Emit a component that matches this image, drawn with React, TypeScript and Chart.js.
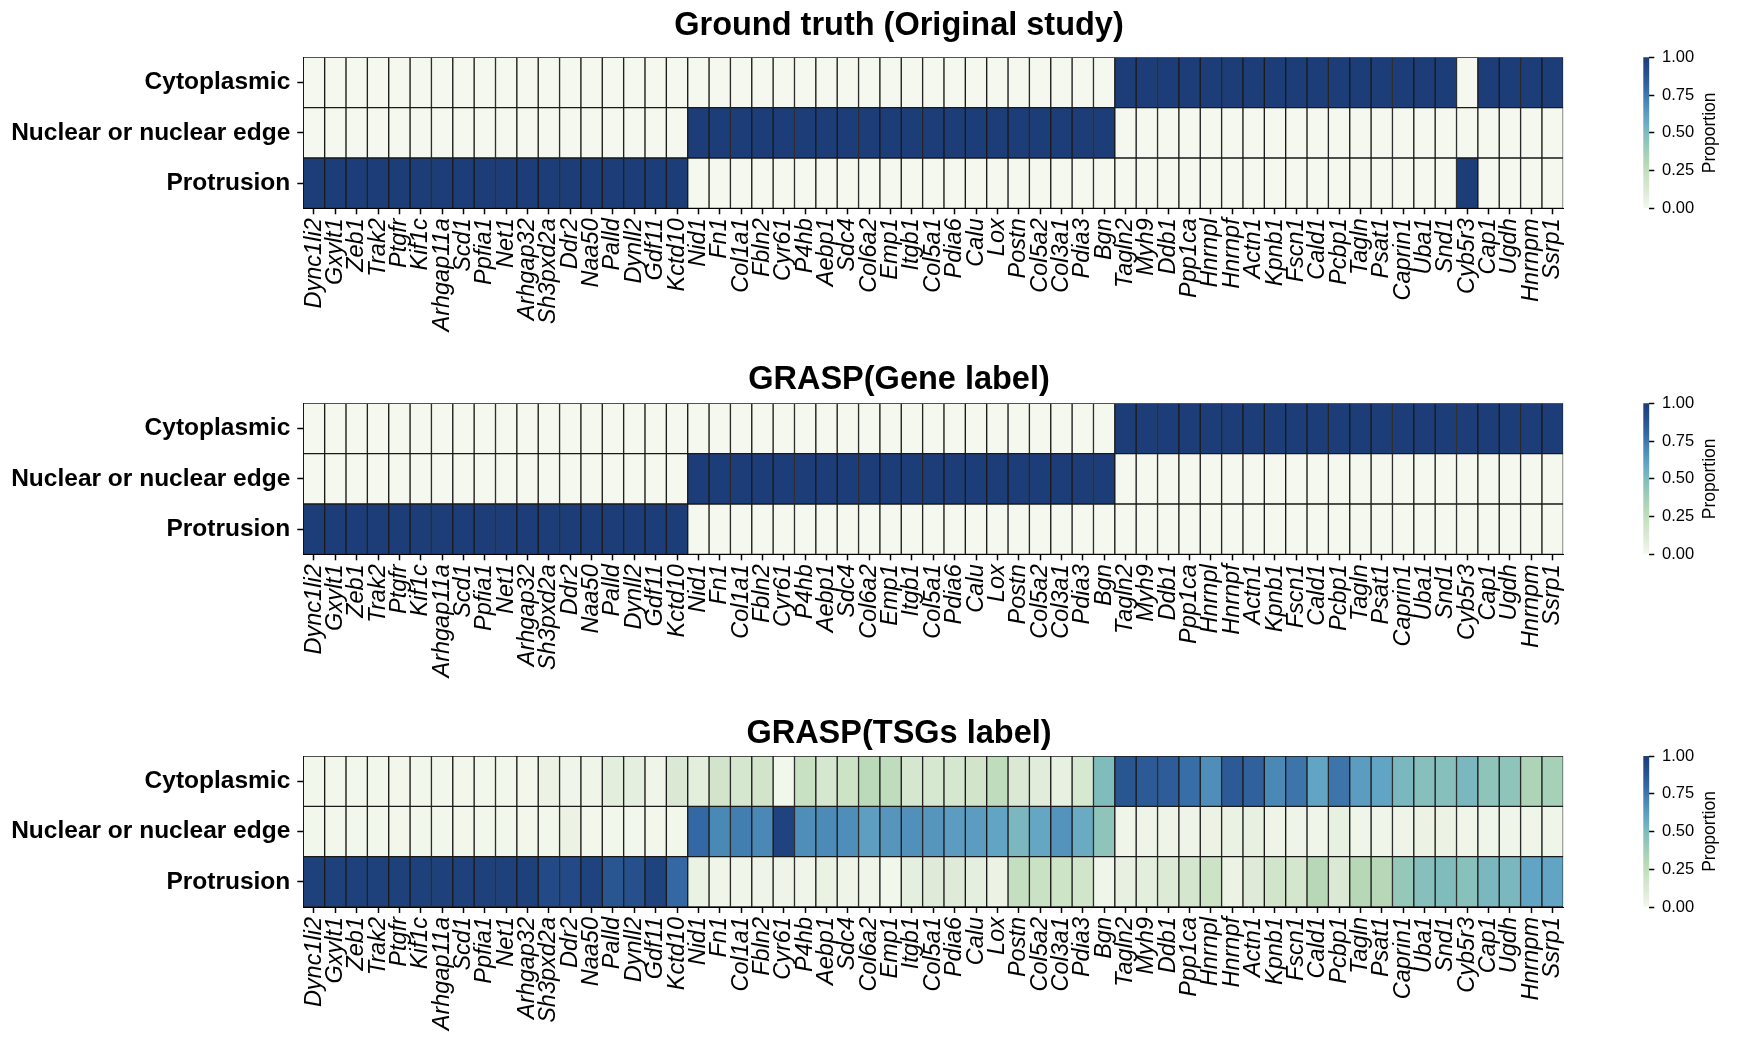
import React, { useEffect, useRef } from 'react';
import { Chart, registerables } from 'chart.js';

Chart.register(...registerables);

// ---------------- data ----------------
const genes = [
  'Dync1li2', 'Gxylt1', 'Zeb1', 'Trak2', 'Ptgfr', 'Kif1c', 'Arhgap11a', 'Scd1', 'Ppfia1', 'Net1',
  'Arhgap32', 'Sh3pxd2a', 'Ddr2', 'Naa50', 'Palld', 'Dynll2', 'Gdf11', 'Kctd10',
  'Nid1', 'Fn1', 'Col1a1', 'Fbln2', 'Cyr61', 'P4hb', 'Aebp1', 'Sdc4', 'Col6a2', 'Emp1',
  'Itgb1', 'Col5a1', 'Pdia6', 'Calu', 'Lox', 'Postn', 'Col5a2', 'Col3a1', 'Pdia3', 'Bgn',
  'Tagln2', 'Myh9', 'Ddb1', 'Ppp1ca', 'Hnrnpl', 'Hnrnpf', 'Actn1', 'Kpnb1', 'Fscn1', 'Cald1',
  'Pcbp1', 'Tagln', 'Psat1', 'Caprin1', 'Uba1', 'Snd1', 'Cyb5r3', 'Cap1', 'Ugdh', 'Hnrnpm', 'Ssrp1',
];

// rows from bottom to top of each heatmap
const rowLabels = ['Protrusion', 'Nuclear or nuclear edge', 'Cytoplasmic'];
const rowCenters = [0.5, 1.5, 2.5];

const panelTitles = ['Ground truth (Original study)', 'GRASP(Gene label)', 'GRASP(TSGs label)'];

// Ground truth (Original study)
const gtCytoplasmic = [
  0, 0, 0, 0, 0, 0, 0, 0, 0, 0, 0, 0, 0, 0, 0, 0, 0, 0,
  0, 0, 0, 0, 0, 0, 0, 0, 0, 0, 0, 0, 0, 0, 0, 0, 0, 0, 0, 0,
  1, 1, 1, 1, 1, 1, 1, 1, 1, 1, 1, 1, 1, 1, 1, 1, 0, 1, 1, 1, 1,
];
const gtNuclear = [
  0, 0, 0, 0, 0, 0, 0, 0, 0, 0, 0, 0, 0, 0, 0, 0, 0, 0,
  1, 1, 1, 1, 1, 1, 1, 1, 1, 1, 1, 1, 1, 1, 1, 1, 1, 1, 1, 1,
  0, 0, 0, 0, 0, 0, 0, 0, 0, 0, 0, 0, 0, 0, 0, 0, 0, 0, 0, 0, 0,
];
const gtProtrusion = [
  1, 1, 1, 1, 1, 1, 1, 1, 1, 1, 1, 1, 1, 1, 1, 1, 1, 1,
  0, 0, 0, 0, 0, 0, 0, 0, 0, 0, 0, 0, 0, 0, 0, 0, 0, 0, 0, 0,
  0, 0, 0, 0, 0, 0, 0, 0, 0, 0, 0, 0, 0, 0, 0, 0, 1, 0, 0, 0, 0,
];

// GRASP (Gene label)
const geneCytoplasmic = [
  0, 0, 0, 0, 0, 0, 0, 0, 0, 0, 0, 0, 0, 0, 0, 0, 0, 0,
  0, 0, 0, 0, 0, 0, 0, 0, 0, 0, 0, 0, 0, 0, 0, 0, 0, 0, 0, 0,
  1, 1, 1, 1, 1, 1, 1, 1, 1, 1, 1, 1, 1, 1, 1, 1, 1, 1, 1, 1, 1,
];
const geneNuclear = [
  0, 0, 0, 0, 0, 0, 0, 0, 0, 0, 0, 0, 0, 0, 0, 0, 0, 0,
  1, 1, 1, 1, 1, 1, 1, 1, 1, 1, 1, 1, 1, 1, 1, 1, 1, 1, 1, 1,
  0, 0, 0, 0, 0, 0, 0, 0, 0, 0, 0, 0, 0, 0, 0, 0, 0, 0, 0, 0, 0,
];
const geneProtrusion = [
  1, 1, 1, 1, 1, 1, 1, 1, 1, 1, 1, 1, 1, 1, 1, 1, 1, 1,
  0, 0, 0, 0, 0, 0, 0, 0, 0, 0, 0, 0, 0, 0, 0, 0, 0, 0, 0, 0,
  0, 0, 0, 0, 0, 0, 0, 0, 0, 0, 0, 0, 0, 0, 0, 0, 0, 0, 0, 0, 0,
];

// GRASP (TSGs label)
const tsgCytoplasmic = [
  0.01, 0.01, 0.01, 0.01, 0.01, 0.01, 0.01, 0.01, 0.01, 0.01, 0.01, 0.04, 0.02, 0.02, 0.08, 0.07, 0.02, 0.12,
  0.08, 0.17, 0.15, 0.17, 0.01, 0.22, 0.15, 0.2, 0.28, 0.26, 0.15, 0.14, 0.15, 0.17, 0.26, 0.12, 0.09, 0.06, 0.14, 0.5,
  0.88, 0.86, 0.85, 0.78, 0.68, 0.86, 0.83, 0.7, 0.76, 0.6, 0.76, 0.63, 0.6, 0.52, 0.48, 0.48, 0.52, 0.45, 0.45, 0.33, 0.36,
];
const tsgNuclear = [
  0.01, 0.01, 0.01, 0.01, 0.01, 0.01, 0.01, 0.01, 0.01, 0.01, 0.01, 0.01, 0.04, 0.01, 0.01, 0.01, 0.01, 0.01,
  0.8, 0.7, 0.73, 0.7, 0.97, 0.68, 0.69, 0.68, 0.62, 0.65, 0.67, 0.65, 0.63, 0.63, 0.6, 0.52, 0.59, 0.66, 0.57, 0.45,
  0.02, 0.03, 0.03, 0.03, 0.04, 0.05, 0.06, 0.03, 0.03, 0.02, 0.06, 0.02, 0.02, 0.03, 0.04, 0.04, 0.02, 0.02, 0.02, 0.02, 0.02,
];
const tsgProtrusion = [
  0.98, 0.98, 0.98, 0.98, 0.98, 0.98, 0.98, 0.98, 0.98, 0.98, 0.98, 0.93, 0.93, 0.97, 0.88, 0.9, 0.97, 0.8,
  0.05, 0.02, 0.02, 0.03, 0.03, 0.02, 0.05, 0.03, 0.02, 0.01, 0.07, 0.1, 0.1, 0.07, 0.04, 0.24, 0.21, 0.19, 0.18, 0.02,
  0.06, 0.08, 0.11, 0.16, 0.2, 0.04, 0.1, 0.18, 0.16, 0.3, 0.12, 0.3, 0.3, 0.42, 0.48, 0.5, 0.47, 0.52, 0.52, 0.6, 0.6,
];

const colorbarTicks = [0, 0.25, 0.5, 0.75, 1];
const colorbarLabel = 'Proportion';

// ---------------- styles ----------------
const FONT = "'Liberation Sans', Arial, sans-serif";
const cmapStops: [number, string][] = [
  [0.0, '#f4f8ee'],
  [0.1, '#dfebd8'],
  [0.2, '#cce3c5'],
  [0.3, '#b6d8b7'],
  [0.4, '#9ccbb8'],
  [0.5, '#80bcbc'],
  [0.6, '#62a4c4'],
  [0.7, '#4a88b5'],
  [0.8, '#3468a4'],
  [0.9, '#26508c'],
  [1.0, '#1c3d78'],
];

function hexToRgb(h: string) {
  const n = parseInt(h.slice(1), 16);
  return [(n >> 16) & 255, (n >> 8) & 255, n & 255];
}

function cmap(v: number) {
  const t = Math.max(0, Math.min(1, v));
  for (let i = 1; i < cmapStops.length; i++) {
    const [p1, c1] = cmapStops[i];
    const [p0, c0] = cmapStops[i - 1];
    if (t <= p1) {
      const f = (t - p0) / (p1 - p0);
      const a = hexToRgb(c0);
      const b = hexToRgb(c1);
      const r = a.map((x, k) => Math.round(x + (b[k] - x) * f));
      return `rgb(${r[0]},${r[1]},${r[2]})`;
    }
  }
  return cmapStops[cmapStops.length - 1][1];
}

const PAGE_W = 1742;
const AREA_LEFT = 303.3;
const AREA_RIGHT = 1563.3;
const TITLE_CENTER_X = 899;
const AREA_H = 151;
const CANVAS_H = 345;
const TITLE_SIZE = 32.5;

type PanelProps = {
  title: string;
  rows: number[][];
  top: number;
  areaTop: number;
  titleCenter: number;
};

function Heatmap({ title, rows, top, areaTop, titleCenter }: PanelProps) {
  const ref = useRef<HTMLCanvasElement | null>(null);
  useEffect(() => {
    if (!ref.current) return;
    const padRight = PAGE_W - AREA_RIGHT;
    const padLeft = 0;
    const yWidth = AREA_LEFT - padLeft;
    const padTop = areaTop - top;
    const xHeight = CANVAS_H - padTop - AREA_H;
    const titlePlugin = {
      id: 'panelTitle',
      afterDraw(chart: any) {
        const { ctx } = chart;
        ctx.save();
        ctx.fillStyle = '#000';
        ctx.textAlign = 'center';
        ctx.textBaseline = 'middle';
        ctx.font = `bold ${TITLE_SIZE}px ${FONT}`;
        ctx.fillText(title, TITLE_CENTER_X, titleCenter - top);
        ctx.restore();
      },
    };
    const chart = new Chart(ref.current, {
      type: 'bar',
      data: {
        labels: genes,
        datasets: rows.map((vals, r) => ({
          label: rowLabels[r],
          data: vals.map(() => [r, r + 1]) as any,
          backgroundColor: vals.map(cmap),
          borderColor: '#1a1a1a',
          borderWidth: 1,
          borderSkipped: false,
          barPercentage: 1,
          categoryPercentage: 1,
        })),
      },
      options: {
        animation: false,
        responsive: false,
        devicePixelRatio: 1,
        layout: { autoPadding: false, padding: { left: padLeft, right: padRight, top: padTop, bottom: 0 } },
        plugins: {
          legend: { display: false },
          tooltip: { enabled: false },
          title: { display: false },
        },
        scales: {
          x: {
            type: 'category',
            stacked: true,
            offset: true,
            grid: {
              display: true,
              drawOnChartArea: false,
              drawTicks: true,
              tickLength: 6,
              tickWidth: 1.5,
              tickColor: '#000',
              offset: false,
            },
            border: { display: true, color: '#000', width: 1 },
            ticks: {
              autoSkip: false,
              maxRotation: 90,
              minRotation: 90,
              padding: 4,
              color: '#000',
              font: { family: FONT, size: 23.5, style: 'italic' },
            },
            afterFit: (s: any) => {
              s.height = xHeight;
            },
          },
          y: {
            type: 'linear',
            min: 0,
            max: 3,
            afterBuildTicks: (s: any) => {
              s.ticks = rowCenters.map((v) => ({ value: v }));
            },
            ticks: {
              callback: (_v: any, i: number) => rowLabels[i],
              padding: 7,
              color: '#000',
              font: { family: FONT, size: 24.5, weight: 'bold' },
            },
            grid: {
              drawOnChartArea: false,
              drawTicks: true,
              tickLength: 6,
              tickWidth: 1.5,
              tickColor: '#000',
            },
            border: { display: true, color: '#000', width: 1 },
            afterFit: (s: any) => {
              s.width = yWidth;
            },
          },
        },
      } as any,
      plugins: [titlePlugin],
    });
    return () => chart.destroy();
  }, [title, rows, top, areaTop, titleCenter]);
  return (
    <canvas
      ref={ref}
      width={PAGE_W}
      height={CANVAS_H}
      style={{ position: 'absolute', left: 0, top, width: PAGE_W, height: CANVAS_H }}
    />
  );
}

const CB_LEFT = 1600;
const CB_W = 142;
const CB_BAR_LEFT = 1643.3;
const CB_BAR_RIGHT = 1649.3;
const CB_LABEL_X = 1710;

function ColorBar({ areaTop }: { areaTop: number }) {
  const ref = useRef<HTMLCanvasElement | null>(null);
  const top = Math.floor(areaTop) - 20;
  const H = AREA_H + 40;
  useEffect(() => {
    if (!ref.current) return;
    const padTop = areaTop - top;
    const padBottom = H - padTop - AREA_H;
    const yWidth = 80;
    const padLeft = CB_BAR_LEFT - CB_LEFT;
    const padRight = CB_W - (CB_BAR_RIGHT - CB_LEFT) - yWidth;
    const labelPlugin = {
      id: 'cbLabel',
      afterDraw(chart: any) {
        const { ctx, chartArea } = chart;
        ctx.save();
        ctx.translate(CB_LABEL_X - CB_LEFT, (chartArea.top + chartArea.bottom) / 2);
        ctx.rotate(-Math.PI / 2);
        ctx.textAlign = 'center';
        ctx.textBaseline = 'middle';
        ctx.fillStyle = '#000';
        ctx.font = `17.5px ${FONT}`;
        ctx.fillText(colorbarLabel, 0, 0);
        ctx.restore();
      },
    };
    const chart = new Chart(ref.current, {
      type: 'bar',
      data: {
        labels: [''],
        datasets: [
          {
            data: [[colorbarTicks[0], colorbarTicks[colorbarTicks.length - 1]]] as any,
            backgroundColor: (c: any) => {
              const { chart: ch } = c;
              const area = ch.chartArea;
              if (!area) return cmapStops[0][1];
              const g = ch.ctx.createLinearGradient(0, area.bottom, 0, area.top);
              cmapStops.forEach(([p, col]) => g.addColorStop(p, col));
              return g;
            },
            borderWidth: 0,
            barPercentage: 1,
            categoryPercentage: 1,
          },
        ],
      },
      options: {
        animation: false,
        responsive: false,
        devicePixelRatio: 1,
        layout: { autoPadding: false, padding: { left: padLeft, right: padRight, top: padTop, bottom: padBottom } },
        plugins: { legend: { display: false }, tooltip: { enabled: false }, title: { display: false } },
        scales: {
          x: { display: false },
          y: {
            position: 'right',
            min: 0,
            max: 1,
            afterBuildTicks: (s: any) => {
              s.ticks = colorbarTicks.map((v) => ({ value: v }));
            },
            ticks: {
              callback: (v: any) => Number(v).toFixed(2),
              padding: 7.7,
              color: '#000',
              font: { family: FONT, size: 16.5 },
            },
            grid: {
              drawOnChartArea: false,
              drawTicks: true,
              tickLength: 5,
              tickWidth: 1.5,
              tickColor: '#000',
            },
            border: { display: false },
            afterFit: (s: any) => {
              s.width = yWidth;
            },
          },
        },
      } as any,
      plugins: [labelPlugin],
    });
    return () => chart.destroy();
  }, [areaTop]);
  return (
    <canvas
      ref={ref}
      width={CB_W}
      height={H}
      style={{ position: 'absolute', left: CB_LEFT, top, width: CB_W, height: H }}
    />
  );
}

const panels = [
  { title: panelTitles[0], rows: [gtProtrusion, gtNuclear, gtCytoplasmic], top: 0, areaTop: 57.3, titleCenter: 26 },
  { title: panelTitles[1], rows: [geneProtrusion, geneNuclear, geneCytoplasmic], top: 346, areaTop: 403.3, titleCenter: 380.5 },
  { title: panelTitles[2], rows: [tsgProtrusion, tsgNuclear, tsgCytoplasmic], top: 699, areaTop: 756, titleCenter: 734 },
];

export default function App() {
  return (
    <div
      style={{
        position: 'absolute',
        left: 0,
        top: 0,
        width: PAGE_W,
        height: 1052,
        background: '#fff',
        overflow: 'hidden',
      }}
    >
      {panels.map((p) => (
        <React.Fragment key={p.title}>
          <Heatmap title={p.title} rows={p.rows} top={p.top} areaTop={p.areaTop} titleCenter={p.titleCenter} />
          <ColorBar areaTop={p.areaTop} />
        </React.Fragment>
      ))}
    </div>
  );
}
